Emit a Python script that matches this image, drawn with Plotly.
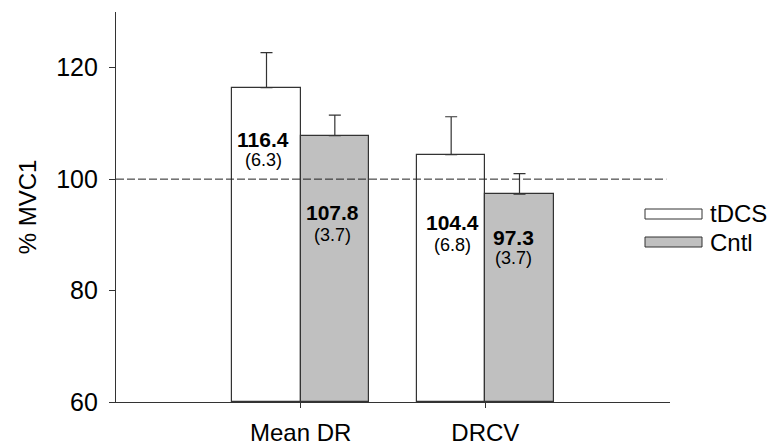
import plotly.graph_objects as go

categories = ["Mean DR", "DRCV"]
series_names = ["tDCS", "Cntl"]
tdcs_mean = [116.4, 104.4]
tdcs_se = [6.3, 6.8]
cntl_mean = [107.8, 97.3]
cntl_se = [3.7, 3.7]
reference_level = 100
y_ticks = [60, 80, 100, 120]

FONT = "Liberation Sans, Arial, sans-serif"
fills = ["#ffffff", "#c0c0c0"]
edge = "#333333"
bar_w = 0.37
offsets = [-bar_w / 2, bar_w / 2]
xpos = list(range(len(categories)))

fig = go.Figure()
for name, means, ses, fill, off in zip(series_names, [tdcs_mean, cntl_mean],
                                         [tdcs_se, cntl_se], fills, offsets):
    fig.add_trace(go.Bar(
        x=[p + off for p in xpos], y=[m - 60 for m in means], base=60,
        width=bar_w, name=name,
        marker=dict(color=fill, line=dict(color=edge, width=1.2)),
        error_y=dict(type="data", array=ses, arrayminus=[0] * len(ses),
                     symmetric=False, color=edge, thickness=1.2, width=6),
        showlegend=False,
    ))

# dashed reference line
fig.add_shape(type="line", xref="x", yref="y", x0=-1, x1=1.98,
              y0=reference_level, y1=reference_level,
              line=dict(color="#222222", width=1, dash="8px,3px"))

# value labels
label_x = [[-0.203, 0.82], [0.174, 1.152]]
label_y_main = [[107.2, 92.2], [94.1, 89.6]]
label_y_sub = [[103.5, 88.2], [90.0, 85.9]]
for s, (means, ses) in enumerate([(tdcs_mean, tdcs_se), (cntl_mean, cntl_se)]):
    for i in range(len(categories)):
        fig.add_annotation(x=label_x[s][i], y=label_y_main[s][i], xref="x", yref="y",
                           text=f"<b>{means[i]:.1f}</b>", showarrow=False,
                           font=dict(family=FONT, size=21, color="#000"))
        fig.add_annotation(x=label_x[s][i], y=label_y_sub[s][i], xref="x", yref="y",
                           text=f"({ses[i]:.1f})", showarrow=False,
                           font=dict(family=FONT, size=18, color="#000"))

# legend (custom, wide patches)
PL, PW, PB, PH = 116, 554, 402, 390
leg_rows_y = [214, 242]
for name, fill, yy in zip(series_names, fills, leg_rows_y):
    fig.add_shape(type="rect", xref="paper", yref="paper",
                  x0=(645 - PL) / PW, x1=(702 - PL) / PW,
                  y0=(PB - (yy + 5)) / PH, y1=(PB - (yy - 5)) / PH,
                  fillcolor=fill, line=dict(color=edge, width=1))
    fig.add_annotation(x=(708 - PL) / PW, y=(PB - yy) / PH, xref="paper", yref="paper",
                       text=name, showarrow=False, xanchor="left", yanchor="middle",
                       font=dict(family=FONT, size=24, color="#000"))

fig.update_layout(
    width=774, height=445,
    margin=dict(l=PL, r=774 - PL - PW, t=12, b=445 - PB),
    plot_bgcolor="white", paper_bgcolor="white",
    font=dict(family=FONT, size=24, color="#000"),
    bargap=0,
)
fig.update_xaxes(range=[-1, 2], tickvals=xpos, ticktext=categories, automargin=False,
                 showgrid=False, zeroline=False, showline=True, linecolor=edge, linewidth=1.2,
                 ticks="outside", ticklen=5, tickcolor=edge, tickfont=dict(size=24),
                 ticklabelstandoff=4)
fig.update_yaxes(range=[60, 130], tickvals=y_ticks, showgrid=False, zeroline=False,
                 automargin=False,
                 showline=True, linecolor=edge, linewidth=1.2,
                 ticks="outside", ticklen=6, tickcolor=edge, tickfont=dict(size=25),
                 ticklabelstandoff=6,
                 title=dict(text="% MVC1", font=dict(size=24), standoff=12))

fig.write_html("out.html", config={"displayModeBar": False},
               post_script="document.body.style.margin='0';")
